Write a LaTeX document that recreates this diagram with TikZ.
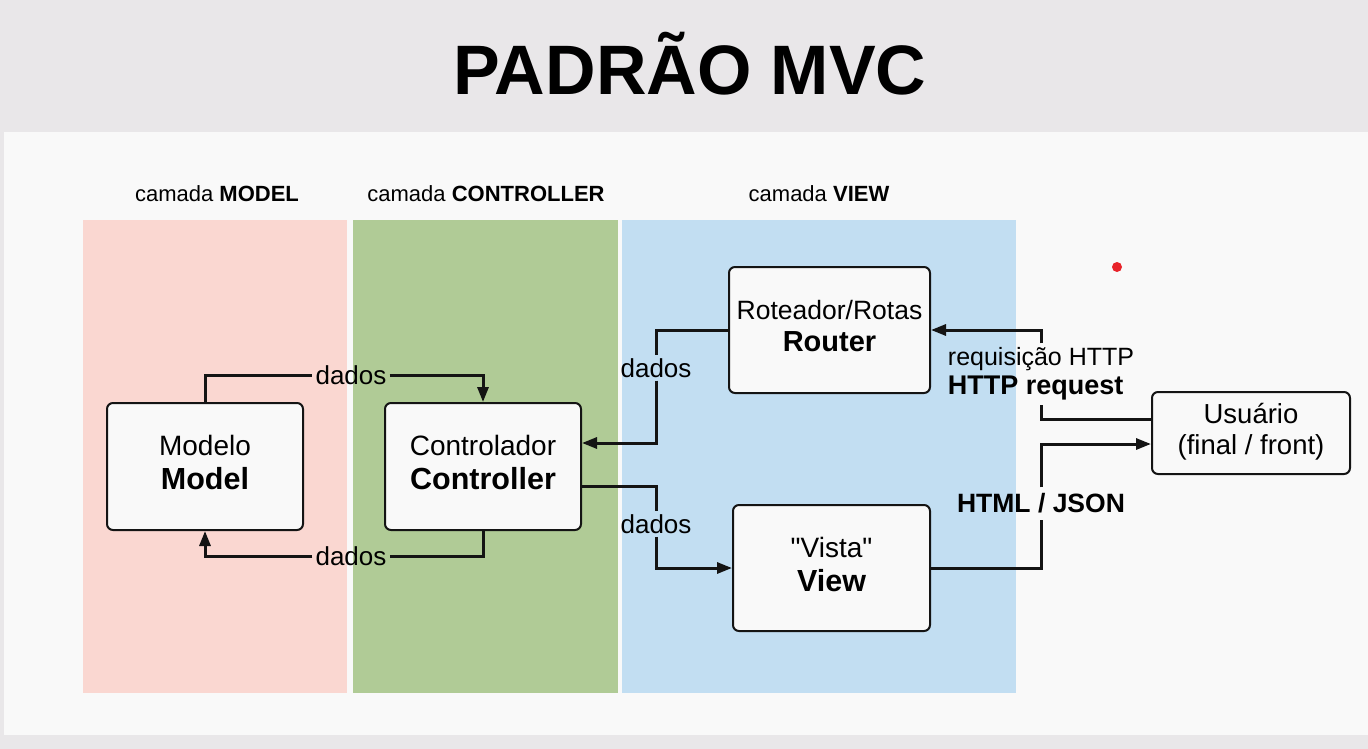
\documentclass[tikz,border=0pt]{standalone}
\usepackage{fontspec}
\setmainfont{Liberation Sans}
\newfontfamily\retas{Liberation Sans}[Ligatures=TeXOff]
\usetikzlibrary{arrows.meta}
\definecolor{fundo}{HTML}{E9E7E9}
\definecolor{painel}{HTML}{F9F9F9}
\definecolor{rosa}{HTML}{FAD7D1}
\definecolor{verde}{HTML}{B0CB96}
\definecolor{azul}{HTML}{C2DEF2}
\definecolor{linha}{HTML}{141414}
\definecolor{ponto}{HTML}{E8232A}
\begin{document}
\begin{tikzpicture}[x=1pt,y=-1pt,
  caixa/.style={draw=linha,line width=2pt,fill=painel,rounded corners=6pt,align=center,inner sep=0pt,text depth=8pt,font=\fontsize{28}{34}\selectfont},
  fio/.style={line width=3pt,draw=linha},
  ponta/.style={-{Triangle[length=15pt,width=11pt]}},
  rotulo/.style={inner sep=3pt,font=\fontsize{26}{30}\selectfont},
  camada/.style={anchor=base,font=\fontsize{22}{26}\selectfont}]
\useasboundingbox (0,0) rectangle (1368,749);
\fill[fundo] (0,0) rectangle (1368,749);
\fill[painel] (4,132) rectangle (1368,735);
% camadas
\fill[rosa] (83,220) rectangle (347,693);
\fill[verde] (353,220) rectangle (618,693);
\fill[azul] (622,220) rectangle (1016,693);
\fill[ponto] (1117,267) circle (5);
\node[anchor=base,font=\fontsize{70}{74}\selectfont\bfseries] (titulo) at (690,95) {PADRÃO MVC};
\node[camada] (cm) at (217,201) {camada \textbf{MODEL}};
\node[camada] (cc) at (486,201) {camada \textbf{CONTROLLER}};
\node[camada] (cv) at (819,201) {camada \textbf{VIEW}};
% caixas
\node[caixa,minimum width=196pt,minimum height=127pt] (Model) at (205,466.5) {Modelo\\{\fontsize{30.5}{34}\selectfont\bfseries Model}};
\node[caixa,minimum width=196pt,minimum height=127pt] (Controller) at (483,466.5) {Controlador\\{\fontsize{30.5}{34}\selectfont\bfseries Controller}};
\node[caixa,minimum width=201pt,minimum height=126pt,font=\fontsize{26.5}{32}\selectfont] (Router) at (829.5,330) {Roteador/Rotas\\{\fontsize{29}{32}\selectfont\bfseries Router}};
\node[caixa,minimum width=197pt,minimum height=126pt] (View) at (831.5,568) {{\retas "Vista"}\\{\fontsize{30.5}{34}\selectfont\bfseries View}};
\node[caixa,minimum width=198pt,minimum height=82pt,font=\fontsize{27.5}{31}\selectfont] (User) at (1251,433) {Usuário\\(final / front)};
% rotulos
\node[rotulo] (d1) at (351,375) {dados};
\node[rotulo] (d2) at (351,556) {dados};
\node[rotulo] (d3) at (656,368) {dados};
\node[rotulo] (d4) at (656,524) {dados};
\node[rotulo,align=left,inner sep=4pt,font=\fontsize{25}{29}\selectfont] (req) at (1041,374) {requisição HTTP\\{\fontsize{27}{29}\selectfont\bfseries HTTP request}};
\node[rotulo,inner sep=6pt,font=\fontsize{26.5}{30}\selectfont\bfseries] (html) at (1041,503.5) {HTML / JSON};
% fios
\draw[fio] (Model.north) |- (d1.west);
\draw[fio,ponta] (d1.east) -| (Controller.north);
\draw[fio] (Controller.south) |- (d2.east);
\draw[fio,ponta] (d2.west) -| (Model.south);
\draw[fio] (Router.west) -| (d3.north);
\draw[fio,ponta] (d3.south) |- ([yshift=23.5pt]Controller.east);
\draw[fio] ([yshift=-19.5pt]Controller.east) -| (d4.north);
\draw[fio,ponta] (d4.south) |- (View.west);
\draw[fio] ([yshift=14pt]User.west) -| (req.south);
\draw[fio,ponta] (req.north) |- (Router.east);
\draw[fio] (View.east) -| (html.south);
\draw[fio,ponta] (html.north) |- ([yshift=-11pt]User.west);
\end{tikzpicture}
\end{document}
